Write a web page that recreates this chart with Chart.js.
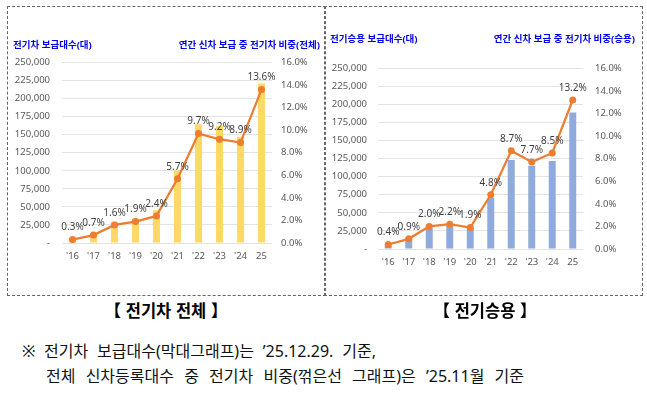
<!DOCTYPE html>
<html lang="ko">
<head>
<meta charset="utf-8">
<script src="https://cdn.jsdelivr.net/npm/chart.js@4.4.1/dist/chart.umd.min.js"></script>
<style>
  body { margin: 0; width: 647px; height: 393px; background: #fff; position: relative; overflow: hidden;
         font-family: "Noto Sans", "Noto Sans CJK KR", sans-serif; }
  .box { position: absolute; top: 6px; width: 319px; height: 290px; box-sizing: border-box; border: 1px dashed #666; }
  .box canvas { position: absolute; left: 0; top: 0; }
  #boxAll { left: 7px; }
  #boxCar { left: 324px; }
  .cap { position: absolute; top: 300px; line-height: 20px; font-weight: bold; font-size: 16.5px;
         font-family: "Noto Sans CJK KR", sans-serif; color: #000; transform: translateX(-50%); white-space: nowrap; }
  .note { position: absolute; line-height: 20px; font-size: 16px; font-family: "Noto Sans", "Noto Sans CJK KR", sans-serif;
          color: #111; text-align: justify; text-align-last: justify; }
</style>
</head>
<body>
<div class="box" id="boxAll"><canvas id="chartAll" width="317" height="288"></canvas></div>
<div class="box" id="boxCar"><canvas id="chartCar" width="317" height="288"></canvas></div>
<div class="cap" style="left:166px">【 전기차 전체 】</div>
<div class="cap" style="left:485px">【 전기승용 】</div>
<div class="note" style="left:22px; top:341px; width:16px">※</div>
<div class="note" style="left:44px; top:341px; width:332px">전기차 보급대수(막대그래프)는 ’25.12.29. 기준,</div>
<div class="note" style="left:46px; top:366px; width:478px">전체 신차등록대수 중 전기차 비중(꺾은선 그래프)은 ’25.11월 기준</div>
<script>
// years on the x axis
const years = ["'16", "'17", "'18", "'19", "'20", "'21", "'22", "'23", "'24", "25"];

// all EVs: units supplied per year and share of new cars (%)
const allUnits = [5000, 14000, 29500, 34000, 45500, 100000, 164500, 162000, 147000, 221000];
const allShare = [0.3, 0.7, 1.6, 1.9, 2.4, 5.7, 9.7, 9.2, 8.9, 13.6];

// passenger EVs
const carUnits = [4600, 14800, 28600, 32300, 29500, 71000, 123200, 115300, 121800, 189000];
const carShare = [0.4, 0.9, 2.0, 2.2, 1.9, 4.8, 8.7, 7.7, 8.5, 13.2];

const FONT = '"Noto Sans", "Noto Sans CJK KR", sans-serif';

// blue axis titles above the two y axes
const axisTitles = {
    id: 'axisTitles',
    afterDraw(chart, args, opts) {
        const ctx = chart.ctx;
        ctx.save();
        ctx.font = 'bold 9.5px ' + FONT;
        ctx.fillStyle = '#0000e6';
        ctx.textBaseline = 'middle';
        ctx.textAlign = 'left';
        ctx.fillText(opts.left, opts.leftX, opts.y);
        ctx.textAlign = 'right';
        ctx.fillText(opts.right, opts.rightX, opts.y);
        ctx.restore();
    }
};

// percent labels above the line points
const shareLabels = {
    id: 'shareLabels',
    afterDatasetsDraw(chart) {
        const ctx = chart.ctx;
        const meta = chart.getDatasetMeta(0);
        const data = chart.data.datasets[0].data;
        ctx.save();
        ctx.font = '10px ' + FONT;
        ctx.fillStyle = '#404040';
        ctx.textAlign = 'center';
        ctx.textBaseline = 'middle';
        meta.data.forEach((pt, i) => {
            ctx.fillText(data[i].toFixed(1) + '%', pt.x, pt.y - 12);
        });
        ctx.restore();
    }
};

function makeChart(id, units, share, barColor, box) {
    const tickFont = { family: FONT, size: 9.5 };
    return new Chart(document.getElementById(id), {
        type: 'bar',
        data: {
            labels: years,
            datasets: [{
                type: 'line',
                data: share,
                yAxisID: 'y1',
                borderColor: '#ed7d31',
                backgroundColor: '#ed7d31',
                borderWidth: 2.25,
                pointRadius: 3.5,
                pointBorderWidth: 0,
                tension: 0,
                order: 0
            }, {
                type: 'bar',
                data: units,
                yAxisID: 'y',
                backgroundColor: barColor,
                categoryPercentage: 1,
                barPercentage: 0.34,
                order: 1
            }]
        },
        options: {
            responsive: false,
            animation: false,
            layout: { padding: { top: box.top, bottom: 288 - box.bottom - 22, left: 0, right: 0 } },
            plugins: {
                legend: { display: false },
                tooltip: { enabled: false },
                axisTitles: box.titles
            },
            scales: {
                x: {
                    grid: { display: false, drawTicks: false },
                    border: { display: false },
                    ticks: { padding: 8, color: '#595959', font: tickFont, maxRotation: 0 },
                    afterFit: s => { s.height = 22; }
                },
                y: {
                    position: 'left',
                    min: 0, max: 250000,
                    ticks: {
                        stepSize: 25000, padding: box.padL, color: '#595959', font: tickFont,
                        callback: v => v === 0 ? '-' : v.toLocaleString('en-US')
                    },
                    grid: { color: '#e3e3e3', drawTicks: false },
                    border: { display: false },
                    afterFit: s => { s.width = box.left; }
                },
                y1: {
                    position: 'right',
                    min: 0, max: 16,
                    ticks: { stepSize: 2, padding: box.padR, color: '#595959', font: tickFont,
                             callback: v => v.toFixed(1) + '%' },
                    grid: { display: false, drawTicks: false },
                    border: { display: false },
                    afterFit: s => { s.width = 317 - box.right; }
                }
            }
        },
        plugins: [axisTitles, shareLabels]
    });
}

makeChart('chartAll', allUnits, allShare, '#ffd966', {
    top: 55.5, bottom: 236, left: 54, right: 264, padL: 12, padR: 9,
    titles: { left: '전기차 보급대수(대)', right: '연간 신차 보급 중 전기차 비중(전체)', y: 38, leftX: 5, rightX: 312 }
});

makeChart('chartCar', carUnits, carShare, '#8faadc', {
    top: 61.3, bottom: 242, left: 53, right: 258, padL: 11, padR: 12,
    titles: { left: '전기승용 보급대수(대)', right: '연간 신차 보급 중 전기차 비중(승용)', y: 32, leftX: 5, rightX: 310 }
});
</script>
</body>
</html>
